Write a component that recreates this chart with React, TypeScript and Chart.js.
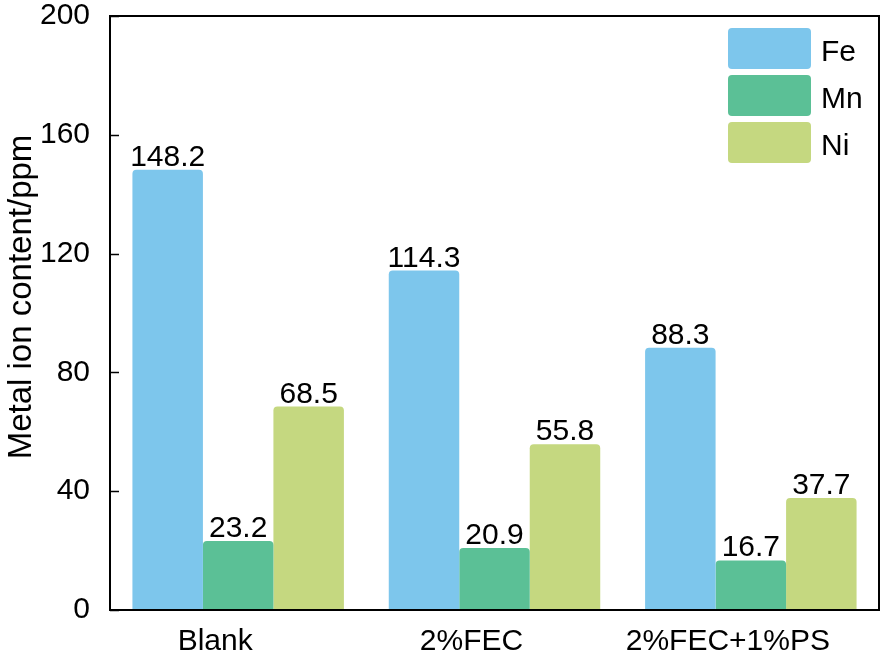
import React, { useEffect, useRef } from "react";
import { Chart, registerables } from "chart.js";

Chart.register(...registerables);

const categories = ["Blank", "2%FEC", "2%FEC+1%PS"];
const seriesNames = ["Fe", "Mn", "Ni"];
const feValues = [148.2, 114.3, 88.3];
const mnValues = [23.2, 20.9, 16.7];
const niValues = [68.5, 55.8, 37.7];
const seriesColors = ["#7DC6EC", "#5BC096", "#C5D880"];
const yTicks = [0, 40, 80, 120, 160, 200];
const yTitle = "Metal ion content/ppm";

const FONT = "'Liberation Sans', Arial, sans-serif";

const decorPlugin = {
  id: "decor",
  afterDatasetsDraw(chart: any) {
    const ctx = chart.ctx;
    const { left, right, top, bottom } = chart.chartArea;
    ctx.save();
    // value labels
    ctx.font = `30px ${FONT}`;
    ctx.fillStyle = "#000";
    ctx.textAlign = "center";
    ctx.textBaseline = "alphabetic";
    chart.data.datasets.forEach((ds: any, i: number) => {
      const meta = chart.getDatasetMeta(i);
      meta.data.forEach((bar: any, j: number) => {
        ctx.fillText(ds.data[j].toFixed(1), bar.x, bar.y - 4);
      });
    });
    // frame
    ctx.strokeStyle = "#000";
    ctx.lineWidth = 2;
    ctx.strokeRect(left, top, right - left, bottom - top);
    // inward y ticks
    const y = chart.scales.y;
    ctx.lineWidth = 1.5;
    yTicks.forEach((v) => {
      const py = Math.round(y.getPixelForValue(v)) + 0.5;
      ctx.beginPath();
      ctx.moveTo(left, py);
      ctx.lineTo(left + 9, py);
      ctx.stroke();
    });
    // y title
    ctx.save();
    ctx.translate(22, 297);
    ctx.rotate(-Math.PI / 2);
    ctx.font = `33px ${FONT}`;
    ctx.textAlign = "center";
    ctx.textBaseline = "middle";
    ctx.fillStyle = "#000";
    ctx.fillText(yTitle, 0, 0);
    ctx.restore();
    // legend
    const bx = 728, bw = 83, bh = 41, gap = 6;
    let by = 28;
    ctx.textAlign = "left";
    ctx.textBaseline = "alphabetic";
    ctx.font = `30px ${FONT}`;
    chart.data.datasets.forEach((ds: any) => {
      ctx.fillStyle = ds.backgroundColor;
      ctx.beginPath();
      (ctx as any).roundRect(bx, by, bw, bh, 4);
      ctx.fill();
      ctx.fillStyle = "#000";
      ctx.fillText(ds.label, bx + bw + 10, by + 33);
      by += bh + gap;
    });
    ctx.restore();
  },
};

export default function App() {
  const ref = useRef<HTMLCanvasElement>(null);
  useEffect(() => {
    document.body.style.margin = "0";
    const values = [feValues, mnValues, niValues];
    const chart = new Chart(ref.current!, {
      type: "bar",
      data: {
        labels: categories,
        datasets: seriesNames.map((name, i) => ({
          label: name,
          data: values[i],
          backgroundColor: seriesColors[i],
          borderRadius: { topLeft: 4, topRight: 4, bottomLeft: 0, bottomRight: 0 },
          borderSkipped: false,
          categoryPercentage: 0.825,
          barPercentage: 1.0,
        })),
      },
      options: {
        responsive: false,
        animation: false,
        layout: { padding: { top: 16, right: 3, left: 0, bottom: 0 } },
        plugins: { legend: { display: false }, tooltip: { enabled: false } },
        scales: {
          x: {
            grid: { display: false, drawTicks: false },
            border: { display: false },
            ticks: { color: "#000", font: { family: FONT, size: 30 }, padding: 14, labelOffset: -23 },
            afterFit: (s: any) => {
              s.height = 52;
              s.paddingLeft = 0;
              s.paddingRight = 0;
            },
          },
          y: {
            min: 0,
            max: 200,
            grid: { display: false, drawTicks: false },
            border: { display: false },
            afterBuildTicks: (s: any) => { s.ticks = yTicks.map((v) => ({ value: v })); },
            ticks: { color: "#000", font: { family: FONT, size: 30 }, padding: 20 },
            afterFit: (s: any) => {
              s.width = 110;
              s.paddingTop = 0;
              s.paddingBottom = 0;
            },
          },
        },
      },
      plugins: [decorPlugin],
    });
    return () => chart.destroy();
  }, []);
  return <canvas ref={ref} width={882} height={662} style={{ display: "block" }} />;
}
